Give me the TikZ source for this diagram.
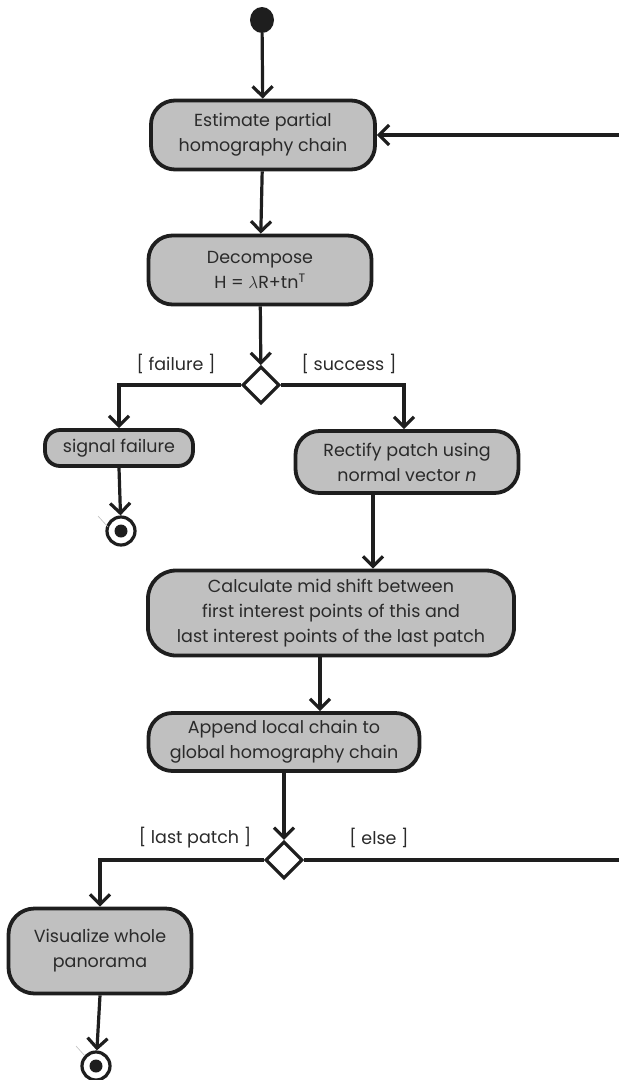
\documentclass[tikz,border=0pt]{standalone}
\usepackage{fontspec}
\setmainfont{Poppins}
\usetikzlibrary{arrows.meta,shapes.geometric,calc}
\definecolor{actgray}{HTML}{C0C0C0}
\definecolor{txtgray}{HTML}{2A2A2A}
\definecolor{linecol}{HTML}{1E1E1E}
\begin{document}
\begin{tikzpicture}[x=1pt,y=-1pt,
  act/.style={draw=linecol, line width=3.8pt, fill=actgray, rounded corners=24pt,
    text=txtgray, align=center, inner sep=0pt, font=\fontsize{17.5}{25}\selectfont},
  flow/.style={draw=linecol, line width=3.2pt,
    -{Straight Barb[length=10pt,width=20pt,line width=3.2pt]}},
  guard/.style={text=txtgray, font=\fontsize{17.5}{20}\selectfont, inner sep=0pt},
  decision/.style={diamond, draw=linecol, line width=3.2pt, fill=white,
    minimum width=37pt, minimum height=37pt, inner sep=0pt},
  final/.style={circle, draw=linecol, line width=3.2pt, fill=white,
    minimum size=28pt, inner sep=0pt}]
\useasboundingbox (0,0) rectangle (619,1080);

% start
\node[ellipse, fill=linecol, minimum width=24pt, minimum height=26pt, inner sep=0pt] (start) at (262,20) {};

% actions
\node[act, minimum width=224pt, minimum height=69pt] (est) at (263,135)
  {Estimate partial\\homography chain};
\node[act, minimum width=223pt, minimum height=69pt] (dec) at (260,270)
  {Decompose\\H = \mbox{$\lambda$}R+tn\textsuperscript{T}};
\node[decision] (d1) at (261,385) {};
\node[act, minimum width=148pt, minimum height=36pt, rounded corners=15pt] (sig) at (119,448)
  {signal failure};
\node[final] (end1) at (121,531) {};
\fill[linecol] (end1.center) circle (6.5pt);
\node[act, minimum width=223pt, minimum height=62pt] (rect) at (407,462)
  {Rectify patch using\\normal vector \textit{n}};
\node[act, minimum width=366pt, minimum height=85pt, rounded corners=28pt] (calc) at (331,613)
  {Calculate mid shift between\\first interest points of this and\\last interest points of the last patch};
\node[act, minimum width=271pt, minimum height=58pt] (app) at (284,742)
  {Append local chain to\\global homography chain};
\node[decision] (d2) at (284,860) {};
\node[act, minimum width=183pt, minimum height=85pt, rounded corners=26pt] (vis) at (100,951)
  {Visualize whole\\panorama};
\node[final] (end2) at (96,1066) {};
\fill[linecol] (end2.center) circle (6.5pt);

% guards
\node[guard] at (176,364) {[ failure ]};
\node[guard] at (349,364) {[ success ]};
\node[guard] at (195,838) {[ last patch ]};
\node[guard] at (379,838) {[ else ]};

% connectors
\draw[flow] (start) -- (est);
\draw[flow] (est) -- (dec);
\draw[flow] (dec) -- (d1);
\draw[flow] (d1.west) -| (sig.north);
\draw[flow] (d1.east) -| ($(rect.north)+(-3,0)$);
\draw[flow] (sig.south) -- (end1);
\coordinate (rs) at ($(rect.south west)!0.35!(rect.south east)$);
\draw[flow] (rs) -- (rs |- calc.north);
\coordinate (cs) at ($(calc.south)+(-11,0)$);
\draw[flow] (cs) -- (cs |- app.north);
\draw[flow] (app) -- (d2);
\draw[flow] (d2.west) -| (vis.north);
\draw[flow] (vis.south) -- (end2);
\coordinate (loopR) at (660,860);
\draw[flow] (d2.east) -- (loopR) |- (est.east);

% faint artefacts
\draw[black!25, line width=0.6pt] (98,516) -- (108,527);
\draw[black!25, line width=0.6pt] (76,1046) -- (85,1056);
\end{tikzpicture}
\end{document}
